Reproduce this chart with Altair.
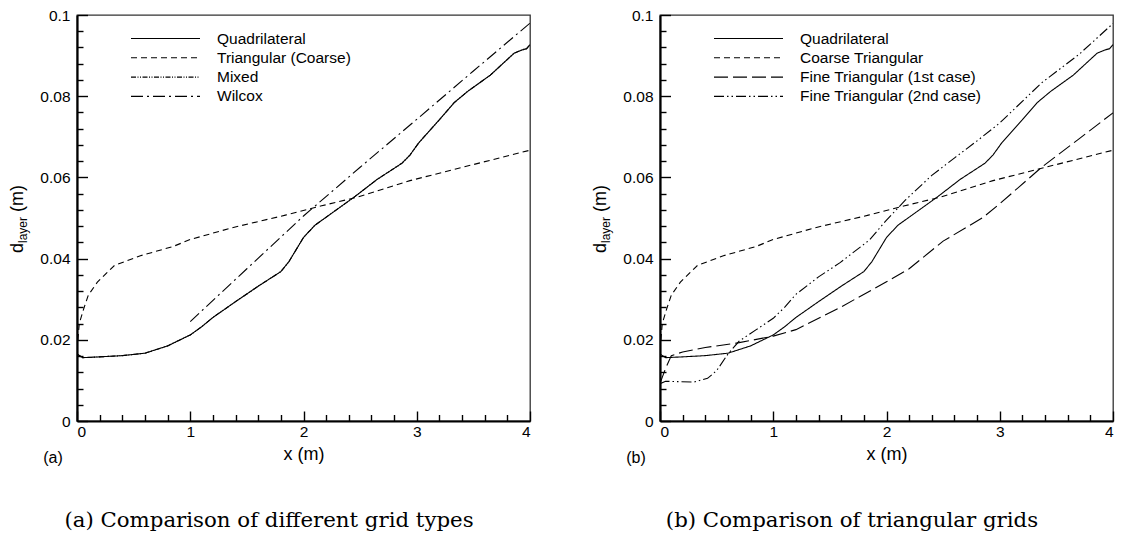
import altair as alt
import pandas as pd

# ---------------- data ----------------
quad_x = [0.0, 0.05, 0.2, 0.4, 0.6, 0.8, 1.0, 1.1, 1.2, 1.4, 1.6, 1.8, 1.87, 2.0, 2.1, 2.25,
          2.45, 2.65, 2.87, 2.94, 3.02, 3.2, 3.33, 3.45, 3.65, 3.86, 3.93, 3.97, 4.0]
quad_y = [0.0165, 0.0156, 0.0158, 0.0161, 0.0167, 0.0185, 0.0212, 0.0232, 0.0255, 0.0294,
          0.0332, 0.0368, 0.0392, 0.0452, 0.0482, 0.0512, 0.0552, 0.0595, 0.0635, 0.0655,
          0.0686, 0.0742, 0.0784, 0.0812, 0.0852, 0.0906, 0.0914, 0.0917, 0.0927]

coarse_x = [0.0, 0.02, 0.06, 0.1, 0.18, 0.33, 0.56, 0.85, 1.0, 1.37, 1.84, 2.16, 2.47,
            2.94, 3.42, 4.0]
coarse_y = [0.0175, 0.024, 0.0277, 0.031, 0.0342, 0.0383, 0.0407, 0.043, 0.0447, 0.0476,
            0.0507, 0.053, 0.0551, 0.0592, 0.0626, 0.0667]

mixed_x = [0.0, 0.05, 0.2, 0.4, 0.6, 0.8, 1.0, 1.1, 1.2, 1.4, 1.6, 1.8, 1.87, 2.0, 2.1, 2.25,
           2.45, 2.65, 2.87, 2.94, 3.02, 3.2, 3.33, 3.45, 3.65, 3.86, 3.93, 3.97, 4.0]
mixed_y = [0.0165, 0.0156, 0.0158, 0.0161, 0.0167, 0.0185, 0.0212, 0.0232, 0.0255, 0.0294,
           0.0332, 0.0368, 0.0392, 0.0452, 0.0482, 0.0512, 0.0552, 0.0595, 0.0635, 0.0655,
           0.0686, 0.0742, 0.0784, 0.0812, 0.0852, 0.0906, 0.0914, 0.0917, 0.0927]

wilcox_x = [1.0, 1.5, 2.0, 2.5, 3.0, 3.5, 4.0]
wilcox_y = [0.0245, 0.0375, 0.0505, 0.0625, 0.0743, 0.0862, 0.098]

fine1_x = [0.0, 0.05, 0.1, 0.2, 0.4, 0.7, 1.0, 1.2, 1.6, 2.0, 2.2, 2.5, 2.85, 3.0, 3.37,
           3.7, 4.0]
fine1_y = [0.0093, 0.013, 0.0161, 0.017, 0.0181, 0.0193, 0.0209, 0.0225, 0.0281, 0.0343,
           0.0375, 0.0443, 0.0501, 0.0535, 0.0625, 0.0695, 0.0759]

fine2_x = [0.0, 0.05, 0.15, 0.3, 0.42, 0.5, 0.6, 0.7, 0.85, 1.0, 1.1, 1.2, 1.4, 1.59, 1.85,
           2.0, 2.17, 2.4, 2.61, 2.8, 3.0, 3.37, 3.7, 4.0]
fine2_y = [0.0092, 0.0098, 0.0097, 0.0096, 0.0105, 0.0124, 0.0165, 0.0197, 0.0225, 0.0253,
           0.028, 0.0312, 0.0355, 0.039, 0.0446, 0.0495, 0.0545, 0.0605, 0.065, 0.069,
           0.0734, 0.0833, 0.0903, 0.0979]

x_major = [0, 1, 2, 3, 4]
x_minor = [0.2, 0.4, 0.6, 0.8, 1.2, 1.4, 1.6, 1.8, 2.2, 2.4, 2.6, 2.8, 3.2, 3.4, 3.6, 3.8]
y_major = [0, 0.02, 0.04, 0.06, 0.08, 0.1]
y_minor = [0.004, 0.008, 0.012, 0.016, 0.024, 0.028, 0.032, 0.036, 0.044, 0.048, 0.052,
           0.056, 0.064, 0.068, 0.072, 0.076, 0.084, 0.088, 0.092, 0.096]

left_series = ["Quadrilateral", "Triangular (Coarse)", "Mixed", "Wilcox"]
left_dashes = [[1, 0], [6, 4], [5, 1.5, 1, 1.5, 1, 1.5], [12, 4, 2, 4]]
left_data = [(quad_x, quad_y), (coarse_x, coarse_y), (mixed_x, mixed_y), (wilcox_x, wilcox_y)]

right_series = ["Quadrilateral", "Coarse Triangular", "Fine Triangular (1st case)",
                "Fine Triangular (2nd case)"]
right_dashes = [[1, 0], [6, 4], [14, 5], [10, 3, 1.5, 3, 1.5, 3]]
right_data = [(quad_x, quad_y), (coarse_x, coarse_y), (fine1_x, fine1_y), (fine2_x, fine2_y)]

FONT = "Liberation Sans"
W, H = 453, 406

x_major_js = "[" + ",".join(str(v) for v in x_major) + "]"
y_major_js = "[" + ",".join(str(v) for v in y_major) + "]"


def tick_size(major_js, major_len, minor_len, conditional):
    if conditional:
        return {"condition": {"test": f"indexof({major_js}, datum.value) >= 0",
                              "value": -major_len},
                "value": -minor_len}
    return {"expr": f"-{(major_len + minor_len) / 2}"}


def pad_expr(major_js, major_len, minor_len, base, conditional):
    # labels are offset by tickSize + labelPadding: compensate the inward ticks
    if conditional:
        return {"condition": {"test": f"indexof({major_js}, datum.value) >= 0",
                              "value": base + major_len},
                "value": base + minor_len}
    return base + (major_len + minor_len) / 2


def panel(series, dashes, data, tag, caption, conditional):
    frames = []
    for name, (xs_, ys_) in zip(series, data):
        frames.append(pd.DataFrame({"x": xs_, "y": ys_, "series": name,
                                    "order": list(range(len(xs_)))}))
    df = pd.concat(frames[::-1], ignore_index=True)

    xs = alt.Scale(domain=[0, 4], nice=False, zero=False)
    ys = alt.Scale(domain=[0, 0.1], nice=False, zero=False)
    dash = alt.Scale(domain=series, range=dashes)
    xaxis = alt.Axis(values=x_major + x_minor, format="~g",
                     labelExpr=f"indexof({x_major_js}, datum.value) >= 0 ? datum.label : ''",
                     ticks=True, tickSize=tick_size(x_major_js, 10, 6.5, conditional),
                     tickColor="black", tickWidth=1.4, tickOpacity=1,
                     labelPadding=pad_expr(x_major_js, 10, 6.5, 3, conditional),
                     grid=False, title="x (m)", titleY=33, titleBaseline="middle",
                     zindex=1)
    yaxis = alt.Axis(values=y_major + y_minor, format=".2~f",
                     labelExpr=f"indexof({y_major_js}, datum.value) >= 0 ? datum.label : ''",
                     ticks=True, tickSize=tick_size(y_major_js, 10.5, 6, conditional),
                     tickColor="black", tickWidth=1.4, tickOpacity=1,
                     labelPadding=pad_expr(y_major_js, 10.5, 6, 7, conditional),
                     grid=False, title=None, zindex=1)

    lines = alt.Chart(df).mark_line(color="black", strokeWidth=1.1, clip=True).encode(
        x=alt.X("x:Q", scale=xs, axis=xaxis),
        y=alt.Y("y:Q", scale=ys, axis=yaxis),
        strokeDash=alt.StrokeDash("series:N", scale=dash, legend=None),
        detail="series:N",
        order="order:Q",
    )

    layers = [lines]

    # legend (inside the plot, top-left)
    for i, name in enumerate(series):
        ly = 23.5 + 19.3 * i
        layers.append(
            alt.Chart(pd.DataFrame({"series": [name]})).mark_rule(
                color="black", strokeWidth=1.1).encode(
                x=alt.value(54), x2=alt.value(123), y=alt.value(ly),
                strokeDash=alt.StrokeDash("series:N", scale=dash, legend=None)))
        layers.append(
            alt.Chart(pd.DataFrame({"t": [name]})).mark_text(
                font=FONT, fontSize=15.5, align="left", baseline="middle", color="black").encode(
                text="t:N", x=alt.value(140), y=alt.value(ly)))

    # y-axis title: d_layer (m)
    ty0 = 238
    layers.append(alt.Chart(pd.DataFrame({"t": ["d"]})).mark_text(
        font=FONT, fontSize=18, align="left", baseline="alphabetic", angle=270,
        color="black").encode(text="t:N", x=alt.value(-54), y=alt.value(ty0)))
    layers.append(alt.Chart(pd.DataFrame({"t": ["layer"]})).mark_text(
        font=FONT, fontSize=12, align="left", baseline="alphabetic", angle=270,
        color="black").encode(text="t:N", x=alt.value(-50), y=alt.value(ty0 - 10)))
    layers.append(alt.Chart(pd.DataFrame({"t": ["(m)"]})).mark_text(
        font=FONT, fontSize=18, align="left", baseline="alphabetic", angle=270,
        color="black").encode(text="t:N", x=alt.value(-54), y=alt.value(ty0 - 41)))

    # panel tag and caption
    layers.append(alt.Chart(pd.DataFrame({"t": [tag]})).mark_text(
        font=FONT, fontSize=16, align="center", baseline="middle", color="black").encode(
        text="t:N", x=alt.value(-24), y=alt.value(443)))
    layers.append(alt.Chart(pd.DataFrame({"t": [caption]})).mark_text(
        font="DejaVu Serif", fontSize=21.3, align="center", baseline="middle",
        color="black").encode(text="t:N", x=alt.value(192), y=alt.value(506)))

    return alt.layer(*layers).properties(width=W, height=H)


def build(conditional):
    left = panel(left_series, left_dashes, left_data, "(a)",
                 "(a) Comparison of different grid types", conditional)
    right = panel(right_series, right_dashes, right_data, "(b)",
                  "(b) Comparison of triangular grids", conditional)
    return alt.HConcatChart(hconcat=[left, right], spacing=130, bounds="flush").resolve_scale(
        strokeDash="independent"
    ).properties(
        padding={"left": 0, "top": -1, "right": 0, "bottom": 0},
        background="white",
    ).configure_view(
        stroke="#333333", strokeWidth=1.3
    ).configure_axis(
        domainColor="black", domainWidth=2.2,
        labelFont=FONT, labelFontSize=15.5, labelColor="black",
        titleFont=FONT, titleFontSize=18, titleFontWeight="normal", titleColor="black",
    )


try:
    chart = build(True)
    chart.to_dict()
except Exception:
    chart = build(False)

chart.save("out.html", embed_options={"renderer": "svg", "actions": False})
